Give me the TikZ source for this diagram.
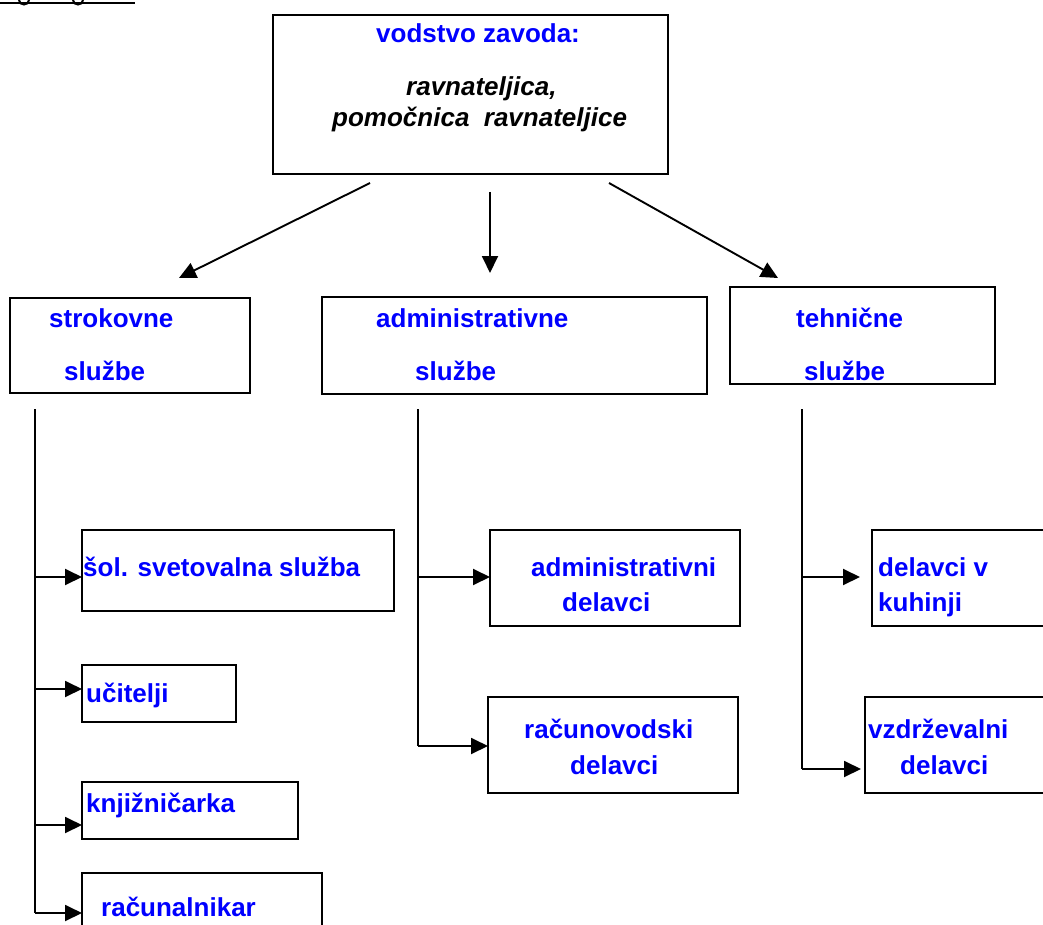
\documentclass[tikz,border=0pt]{standalone}
\usepackage{fontspec}
\setmainfont{Liberation Sans}
\usetikzlibrary{arrows.meta}
\begin{document}
\begin{tikzpicture}[x=1pt,y=-1pt,
  box/.style={draw, line width=2.3pt, inner sep=0pt, outer sep=0pt, anchor=north west},
  lbl/.style={anchor=base west, inner sep=0pt, text=blue, font=\fontsize{26}{30}\selectfont\bfseries},
  ital/.style={anchor=base west, inner sep=0pt, font=\fontsize{26}{30}\selectfont\bfseries\itshape},
  arr/.style={line width=1.9pt, -{Triangle[length=17pt,width=16pt]}},
  ln/.style={line width=1.9pt}]
\useasboundingbox (0,0) rectangle (1043,925);

% heading remnant (cut off at top)
\draw[line width=2.5pt] (0,3) -- (135,3);
\draw[line width=2pt] (19,0) .. controls (19,6) and (29,6) .. (29,0);
\draw[line width=2pt] (73,0) .. controls (73,6) and (83,6) .. (83,0);

% boxes
\node[box, minimum width=395pt, minimum height=159pt] (top) at (273,15) {};
\node[box, minimum width=240pt, minimum height=95pt] (strok) at (10,298) {};
\node[box, minimum width=385pt, minimum height=97pt] (adm) at (322,297) {};
\node[box, minimum width=265pt, minimum height=97pt] (teh) at (730,287) {};
\node[box, minimum width=312pt, minimum height=81pt] (sol) at (82,530) {};
\node[box, minimum width=154pt, minimum height=57pt] (uci) at (82,665) {};
\node[box, minimum width=216pt, minimum height=57pt] (knj) at (82,782) {};
\node[box, minimum width=240pt, minimum height=80pt] (rac) at (82,873) {};
\node[box, minimum width=250pt, minimum height=96pt] (admw) at (490,530) {};
\node[box, minimum width=250pt, minimum height=96pt] (racw) at (488,697) {};
\node[box, minimum width=200pt, minimum height=96pt] (kuh) at (872,530) {};
\node[box, minimum width=200pt, minimum height=96pt] (vzd) at (865,697) {};

% texts
\node[lbl] (t1) at (376,43) {vodstvo zavoda:};
\node[ital] (t2) at (406,96) {ravnateljica,};
\node[ital] (t3) at (332,127) {pomočnica\ \ ravnateljice};
\node[lbl] (t4) at (49,327) {strokovne};
\node[lbl] (t5) at (64,380) {službe};
\node[lbl] (t6) at (376,327) {administrativne};
\node[lbl] (t7) at (415,380) {službe};
\node[lbl] (t8) at (796,327) {tehnične};
\node[lbl] (t9) at (804,380) {službe};
\node[lbl] (t10) at (83,576) {šol. svetovalna služba};
\node[lbl] (t11) at (86,702) {učitelji};
\node[lbl] (t12) at (86,812) {knjižničarka};
\node[lbl] (t13) at (101,916) {računalnikar};
\node[lbl] (t14) at (531,576) {administrativni};
\node[lbl] (t15) at (562,611) {delavci};
\node[lbl] (t16) at (524,738) {računovodski};
\node[lbl] (t17) at (570,774) {delavci};
\node[lbl] (t18) at (878,576) {delavci v};
\node[lbl] (t19) at (878,611) {kuhinji};
\node[lbl] (t20) at (868,738) {vzdrževalni};
\node[lbl] (t21) at (900,774) {delavci};

% top arrows
\coordinate (tl1) at (370,183); \coordinate (tl2) at (179,278);
\coordinate (tm1) at (490,192); \coordinate (tm2) at (490,273);
\coordinate (tr1) at (609,183); \coordinate (tr2) at (778,278);
\draw[arr] (tl1) -- (tl2);
\draw[arr] (tm1) -- (tm2);
\draw[arr] (tr1) -- (tr2);

% spines
\coordinate (ls0) at (35,409); \coordinate (ls1) at (35,577); \coordinate (ls2) at (35,689);
\coordinate (ls3) at (35,825); \coordinate (ls4) at (35,913);
\coordinate (ms0) at (418,409); \coordinate (ms1) at (418,577); \coordinate (ms2) at (418,746);
\coordinate (rs0) at (802,409); \coordinate (rs1) at (802,577); \coordinate (rs2) at (802,769);
\coordinate (rk) at (860,577); \coordinate (rv) at (861,769);
\draw[ln] (ls0) -- (ls4);
\draw[ln] (ms0) -- (ms2);
\draw[ln] (rs0) -- (rs2);

% branches
\draw[arr] (ls1) -- (ls1 -| sol.west);
\draw[arr] (ls2) -- (ls2 -| uci.west);
\draw[arr] (ls3) -- (ls3 -| knj.west);
\draw[arr] (ls4) -- (ls4 -| rac.west);
\draw[arr] (ms1) -- (ms1 -| admw.west);
\draw[arr] (ms2) -- (ms2 -| racw.west);
\draw[arr] (rs1) -- (rk);
\draw[arr] (rs2) -- (rv);
\end{tikzpicture}
\end{document}
